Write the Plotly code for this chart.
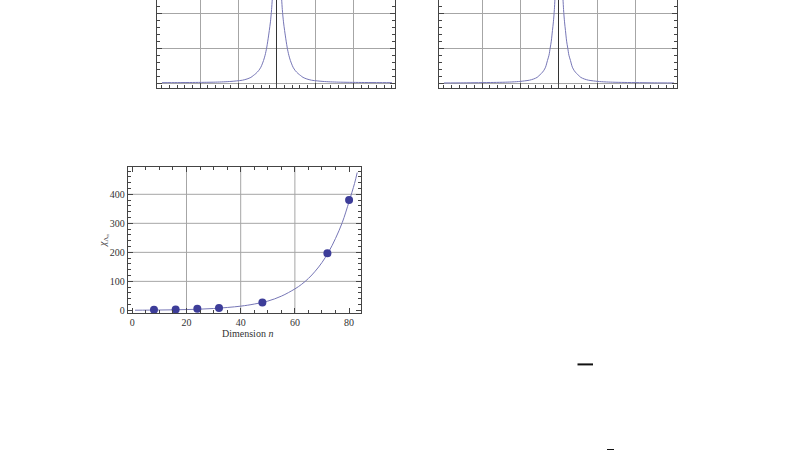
import plotly.graph_objects as go

# ---- top-left resonance curve ----
left_x = [-3.0, -2.6, -2.2, -1.9, -1.6, -1.4, -1.2, -1.05, -0.9, -0.78, -0.68, -0.62, -0.55, -0.48, -0.42,
          -0.35, -0.31, -0.27, -0.24, -0.2, -0.17, -0.14, -0.1, -0.05, 0.0,
          0.05, 0.1, 0.14, 0.17, 0.2, 0.24, 0.27, 0.31, 0.35, 0.42, 0.48, 0.55, 0.62, 0.68, 0.78, 0.9,
          1.05, 1.2, 1.4, 1.6, 1.9, 2.2, 2.6, 3.0]
left_y = [0.2, 0.22, 0.25, 0.29, 0.35, 0.43, 0.55, 0.7, 0.9, 1.25, 1.7, 2.2, 2.8, 3.6, 4.6,
          6.5, 8.0, 10.0, 12.0, 15.0, 17.5, 21.0, 28.0, 36.0, 40.0,
          36.0, 28.0, 21.0, 17.5, 15.0, 12.0, 10.0, 8.0, 6.5, 4.6, 3.6, 2.8, 2.2, 1.7, 1.25, 0.9,
          0.7, 0.55, 0.43, 0.35, 0.29, 0.25, 0.22, 0.2]

# ---- top-right resonance curve ----
right_x = [-3.0, -2.5, -2.1, -1.7, -1.4, -1.2, -1.02, -0.9, -0.77, -0.66, -0.57, -0.52, -0.46, -0.4, -0.35,
           -0.3, -0.26, -0.23, -0.2, -0.17, -0.145, -0.12, -0.085, -0.04, 0.0,
           0.04, 0.085, 0.12, 0.145, 0.17, 0.2, 0.23, 0.26, 0.3, 0.35, 0.4, 0.46, 0.52, 0.57, 0.66, 0.77,
           0.9, 1.02, 1.2, 1.4, 1.7, 2.1, 2.5, 3.0]
right_y = [0.12, 0.15, 0.2, 0.26, 0.33, 0.42, 0.55, 0.7, 0.9, 1.25, 1.7, 2.2, 2.8, 3.6, 4.6,
           6.5, 8.0, 10.0, 12.0, 15.0, 17.5, 21.0, 28.0, 36.0, 40.0,
           36.0, 28.0, 21.0, 17.5, 15.0, 12.0, 10.0, 8.0, 6.5, 4.6, 3.6, 2.8, 2.2, 1.7, 1.25, 0.9,
           0.7, 0.55, 0.42, 0.33, 0.26, 0.2, 0.15, 0.12]

# ---- bottom plot: measured points and fitted curve ----
dim_n = [8, 16, 24, 32, 48, 72, 80]
chi = [2.3, 3.4, 5.7, 8.0, 27.6, 197, 380]
fit_x = [1, 10, 20, 30, 40, 45, 50, 55, 60, 62.5, 65, 67.5, 70, 72.5, 75, 77.5, 80, 82, 83]
fit_y = [0.6, 1.3, 2.9, 6.5, 14.6, 21.8, 32, 49, 74, 90, 110, 135, 165, 202, 248, 303, 375, 437, 475]

x_ticks_bottom = [0, 20, 40, 60, 80]
y_ticks_bottom = [0, 100, 200, 300, 400]
x_grid_bottom = [20, 40, 60]
y_grid_bottom = [100, 200, 300, 400]
x_grid_top = [-2, -1, 0, 1, 2]
y_grid_top = [0, 10, 20]

LINE = "#7676b6"
MARK = "#3d3d99"
FRAME = "#444444"
GRID = "#a6a6a6"
FONT = "Liberation Serif"
TXT = "#333333"

fig = go.Figure()
fig.add_trace(go.Scatter(x=left_x, y=left_y, mode="lines",
                         line=dict(color=LINE, width=1, shape="spline", smoothing=0.8),
                         xaxis="x", yaxis="y", showlegend=False, hoverinfo="skip"))
fig.add_trace(go.Scatter(x=right_x, y=right_y, mode="lines",
                         line=dict(color=LINE, width=1, shape="spline", smoothing=0.8),
                         xaxis="x2", yaxis="y2", showlegend=False, hoverinfo="skip"))
fig.add_trace(go.Scatter(x=fit_x, y=fit_y, mode="lines", line=dict(color=LINE, width=1, shape="spline"),
                         xaxis="x3", yaxis="y3", showlegend=False, hoverinfo="skip"))
fig.add_trace(go.Scatter(x=dim_n, y=chi, mode="markers", marker=dict(color=MARK, size=8),
                         xaxis="x3", yaxis="y3", showlegend=False, cliponaxis=False))

top_y_dom = [1 - 88 / 450, 1.0]

def top_xaxis(dom, anchor):
    return dict(domain=dom, anchor=anchor, range=[-3.13, 3.08], showline=True, linecolor=FRAME,
                linewidth=1, mirror=False, ticks="inside", ticklen=5, tickcolor=FRAME,
                tickvals=x_grid_top, showticklabels=False, showgrid=True, gridcolor=GRID, gridwidth=1,
                zeroline=True, zerolinecolor="#333333", zerolinewidth=1,
                minor=dict(dtick=0.2, tick0=0, ticks="inside", ticklen=3, tickcolor=FRAME, showgrid=False))

def top_yaxis(anchor):
    return dict(domain=top_y_dom, anchor=anchor, range=[-1.43, 23.71], showline=True, linecolor=FRAME,
                linewidth=1, mirror="allticks", ticks="inside", ticklen=5, tickcolor=FRAME,
                tickvals=y_grid_top, showticklabels=False, showgrid=True, gridcolor=GRID, gridwidth=1,
                zeroline=False,
                minor=dict(dtick=2, tick0=0, ticks="inside", ticklen=3, tickcolor=FRAME, showgrid=False))

shapes = []
for gx in x_grid_bottom:
    shapes.append(dict(type="line", xref="x3", yref="y3 domain", x0=gx, x1=gx, y0=0, y1=1,
                       line=dict(color=GRID, width=1), layer="below"))
for gy in y_grid_bottom:
    shapes.append(dict(type="line", xref="x3 domain", yref="y3", x0=0, x1=1, y0=gy, y1=gy,
                       line=dict(color=GRID, width=1), layer="below"))
# small fraction bars of surrounding document text
shapes.append(dict(type="line", xref="paper", yref="paper", x0=577.5 / 800, x1=593 / 800,
                   y0=1 - 362.8 / 450, y1=1 - 362.8 / 450, line=dict(color="#111111", width=2)))
shapes.append(dict(type="line", xref="paper", yref="paper", x0=607 / 800, x1=614 / 800,
                   y0=1 - 448 / 450, y1=1 - 448 / 450, line=dict(color="#111111", width=2)))

fig.update_layout(
    width=800, height=455, margin=dict(l=0, r=0, t=0, b=0),
    paper_bgcolor="white", plot_bgcolor="white",
    font=dict(family=FONT, size=10, color=TXT),
    xaxis=top_xaxis([157 / 800, 395 / 800], "y"),
    yaxis=top_yaxis("x"),
    xaxis2=top_xaxis([439 / 800, 677 / 800], "y2"),
    yaxis2=top_yaxis("x2"),
    xaxis3=dict(domain=[127.7 / 800, 361 / 800], anchor="y3", range=[-1.7, 84.4], showline=True,
                linecolor=FRAME, linewidth=1, mirror="allticks", ticks="inside", ticklen=5, tickcolor=FRAME,
                tickvals=x_ticks_bottom, showgrid=False, zeroline=False,
                tickfont=dict(family=FONT, size=10, color=TXT),
                minor=dict(dtick=5, tick0=0, ticks="inside", ticklen=3, tickcolor=FRAME, showgrid=False)),
    yaxis3=dict(domain=[1 - 311.7 / 450, 1 - 166 / 450], anchor="x3", range=[-9.3, 495], showline=True,
                linecolor=FRAME, linewidth=1, mirror="allticks", ticks="inside", ticklen=5, tickcolor=FRAME,
                tickvals=y_ticks_bottom, showgrid=False, zeroline=False,
                tickfont=dict(family=FONT, size=10, color=TXT),
                minor=dict(dtick=20, tick0=0, ticks="inside", ticklen=3, tickcolor=FRAME, showgrid=False)),
    shapes=shapes,
    annotations=[
        dict(text="Dimension <i>n</i>", xref="paper", yref="paper", x=247 / 800, y=1 - 332 / 450,
             xanchor="center", yanchor="middle", showarrow=False, font=dict(family=FONT, size=10, color=TXT)),
        dict(text="<i>χ</i><sub>Λ<sub>n</sub></sub>", xref="paper", yref="paper", x=104 / 800, y=1 - 240 / 450,
             xanchor="center", yanchor="middle", showarrow=False, textangle=-90,
             font=dict(family=FONT, size=10, color=TXT)),
    ],
)

fig.write_html("out.html", config={"displayModeBar": False},
               post_script="document.body.style.margin='0';document.body.style.overflow='hidden';")
